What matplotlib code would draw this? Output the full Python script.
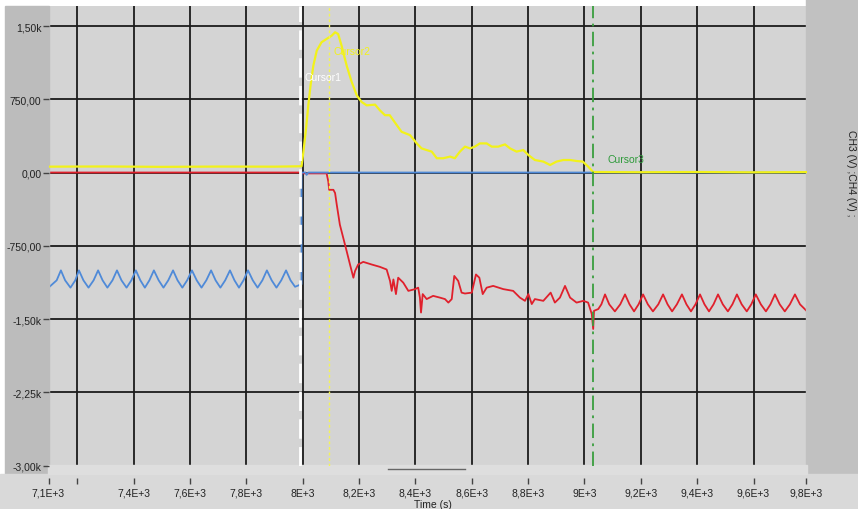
import matplotlib
matplotlib.use('Agg')
import matplotlib.pyplot as plt
from matplotlib.patches import Rectangle
from matplotlib.lines import Line2D

# ---- data (time in s, CH1/CH2 on left axis, CH3/CH4 on right axis) ----
yellow_t = [7098, 7300, 7500, 7700, 7900, 7996, 8002, 8012, 8020, 8028,
            8038, 8050, 8067, 8085, 8103, 8115, 8126, 8138, 8156, 8174,
            8192, 8209, 8227, 8257, 8274, 8292, 8309, 8334, 8351, 8381,
            8405, 8422, 8440, 8458, 8476, 8499, 8523, 8540, 8558, 8576,
            8594, 8611, 8629, 8653, 8671, 8694, 8718, 8736, 8759, 8783,
            8801, 8824, 8854, 8878, 8901, 8925, 8949, 8972, 8994, 9013,
            9031, 9200, 9400, 9600, 9788]
yellow_v = [60, 62, 58, 61, 60, 64, 197, 451, 688, 892,
            1096, 1248, 1334, 1368, 1401, 1436, 1418, 1299, 1096, 927,
            790, 723, 688, 695, 637, 587, 587, 485, 417, 383,
            298, 247, 230, 214, 146, 146, 163, 146, 214, 265,
            247, 265, 298, 298, 265, 265, 288, 247, 214, 230,
            179, 128, 112, 77, 112, 128, 128, 118, 112, 61,
            5, 3, 5, 2, 4]

blue_t = [7098, 7127, 7142, 7157, 7176, 7193, 7206, 7222, 7240, 7258,
          7274, 7290, 7307, 7325, 7341, 7357, 7375, 7392, 7408, 7424,
          7440, 7456, 7472, 7489, 7506, 7523, 7540, 7556, 7573, 7590,
          7607, 7624, 7641, 7658, 7675, 7691, 7708, 7725, 7742, 7758,
          7774, 7790, 7806, 7823, 7840, 7857, 7873, 7890, 7907, 7924,
          7941, 7957, 7973, 7996, 7996, 8010, 8014, 8020, 9788]
blue_v = [-393, -368, -334, -368, -393, -368, -334, -368, -393, -368,
          -334, -368, -393, -368, -334, -368, -393, -368, -334, -368,
          -393, -368, -334, -368, -393, -368, -334, -368, -393, -368,
          -334, -368, -393, -368, -334, -368, -393, -368, -334, -368,
          -393, -368, -334, -368, -393, -368, -334, -368, -393, -368,
          -334, -368, -390, -381, 0, 0, -8, 0, 0]

red_t = [7098, 7995, 8000, 8085, 8091, 8094, 8109, 8115, 8121, 8132,
         8144, 8156, 8168, 8180, 8186, 8197, 8215, 8245, 8274, 8298,
         8310, 8316, 8322, 8331, 8339, 8357, 8375, 8399, 8410, 8416,
         8420, 8426, 8440, 8463, 8487, 8505, 8517, 8529, 8538, 8552,
         8564, 8576, 8600, 8615, 8627, 8639, 8653, 8676, 8712, 8747,
         8771, 8789, 8801, 8813, 8824, 8854, 8880, 8895, 8913, 8931,
         8949, 8972, 8996, 9013, 9026, 9031, 9034, 9049, 9060, 9073,
         9088, 9108, 9127, 9144, 9160, 9176, 9192, 9208, 9225, 9243,
         9262, 9279, 9295, 9311, 9328, 9346, 9362, 9378, 9394, 9410,
         9426, 9442, 9458, 9474, 9491, 9509, 9525, 9541, 9558, 9576,
         9592, 9608, 9626, 9644, 9660, 9676, 9693, 9711, 9729, 9747,
         9765, 9788]
red_v = [0, 0, -3, -3, -31, -59, -59, -70, -110, -178,
         -223, -268, -314, -359, -336, -314, -305, -314, -322, -331,
         -370, -404, -365, -415, -359, -376, -404, -398, -393, -427,
         -478, -415, -432, -421, -427, -432, -444, -432, -353, -370,
         -410, -413, -410, -348, -359, -415, -393, -387, -398, -404,
         -427, -438, -415, -449, -432, -438, -410, -444, -427, -387,
         -427, -444, -438, -444, -483, -534, -472, -466, -450, -416,
         -450, -474, -450, -416, -450, -474, -450, -416, -450, -474,
         -450, -416, -450, -474, -450, -416, -450, -474, -450, -416,
         -450, -474, -450, -416, -450, -474, -450, -416, -450, -474,
         -450, -416, -450, -474, -450, -416, -450, -474, -450, -416,
         -450, -472]

cursor_t = [7990, 8094, 9031]
cursor_names = ['Cursor1', 'Cursor2', 'Cursor3']

x_ticks = [7098, 7200, 7400, 7600, 7800, 8000, 8200, 8400, 8600, 8800,
           9000, 9200, 9400, 9600, 9788]
x_labels = ['7,1E+3', '', '7,4E+3', '7,6E+3', '7,8E+3', '8E+3', '8,2E+3',
            '8,4E+3', '8,6E+3', '8,8E+3', '9E+3', '9,2E+3', '9,4E+3',
            '9,6E+3', '9,8E+3']
x_grid = [7200, 7400, 7600, 7800, 8000, 8200, 8400, 8600, 8800, 9000,
          9200, 9400, 9600]
left_ticks = [1500, 750, 0, -750, -1500, -2250, -3000]
left_labels = ['1,50k', '750,00', '0,00', '-750,00', '-1,50k', '-2,25k', '-3,00k']
right_ticks = [500, 250, 0, -250, -500, -750, -1000]
right_labels = ['500,00', '250,00', '0,00', '-250,00', '-500,00', '-750,00', '-1,00k']

plt.rcParams['font.family'] = ['Liberation Sans Narrow', 'Liberation Sans', 'DejaVu Sans']

W, H = 858, 510
fig = plt.figure(figsize=(W / 100, H / 100), dpi=100, facecolor='white')


def px_rect(x0, y0, x1, y1, color):
    fig.patches.append(Rectangle((x0 / W, 1 - y1 / H), (x1 - x0) / W, (y1 - y0) / H,
                                 transform=fig.transFigure, color=color, zorder=0))


# panel frame like the LabVIEW graph
px_rect(5, 7, 49, 475, '#bcbcbc')
px_rect(806, 0, 858, 475, '#c1c1c1')
px_rect(0, 475, 858, 510, '#d9d9d9')
px_rect(48, 466, 807, 475, '#dedede')
fig.lines.append(Line2D([388 / W, 465 / W], [1 - 470 / H, 1 - 470 / H],
                        transform=fig.transFigure, color='#666666', lw=1))

ax = fig.add_axes([48.5 / W, 1 - 466.5 / H, 758 / W, 459.5 / H])
ax2 = ax.twinx()
ax.set_zorder(ax2.get_zorder() + 1)
ax.patch.set_visible(False)
ax2.patch.set_visible(True)
ax2.patch.set_facecolor('#d4d4d4')

ax.set_xlim(7098, 9788)
ax.set_ylim(-3000, 1705)
ax2.set_ylim(-1000, 1705 / 3)

# grid (on the back axes)
for t in x_grid:
    ax2.axvline(t, color='#1c1c1c', lw=1.3, zorder=1)
for v in right_ticks[:-1]:
    ax2.axhline(v, color='#1c1c1c', lw=1.3, zorder=1)

ax2.plot(blue_t, blue_v, color='#4f8ad8', lw=1.3, zorder=3)
ax2.plot(red_t, red_v, color='#e0202c', lw=1.3, zorder=2)
ax.plot(yellow_t, yellow_v, color='#f2f21a', lw=1.6, zorder=3)

# cursors
ax.axvline(cursor_t[0], color='white', lw=2, dashes=(7, 3), zorder=4)
ax.axvline(cursor_t[1], color='#f4f455', lw=1, dashes=(2, 2), zorder=4)
ax.axvline(cursor_t[2], color='#3a9e3e', lw=1.3, dashes=(8, 3, 1.5, 3), zorder=4)
ax.text(8008, 977, cursor_names[0], color='white', fontsize=7.5, va='center', zorder=5)
ax.text(8108, 1244, cursor_names[1], color='#f2f21a', fontsize=7.5, va='center', zorder=5)
ax.text(9082, 138, cursor_names[2], color='#2e9a3a', fontsize=7.5, va='center', zorder=5)

for a in (ax, ax2):
    for s in a.spines.values():
        s.set_visible(False)

ax.set_xticks(x_ticks)
ax.set_xticklabels(x_labels)
ax.spines['bottom'].set_position(('outward', 9))
ax.tick_params(axis='x', length=4, width=1, color='#444444', labelsize=7.5,
               labelcolor='#222222', pad=3)
ax.set_yticks(left_ticks)
ax.set_yticklabels(left_labels)
ax.tick_params(axis='y', length=4, width=1, color='#444444', labelsize=7.5,
               labelcolor='#222222', pad=1)
ax2.set_yticks(right_ticks)
ax2.set_yticklabels(right_labels)
ax2.tick_params(axis='y', length=4, width=1, color='#444444', labelsize=7.5,
                labelcolor='#222222', pad=1)

fig.text(433 / W, 1 - 505 / H, 'Time (s)', fontsize=7.5, color='#222222',
         ha='center', va='center')
fig.text(851 / W, 1 - 173 / H, 'CH3 (V) ;CH4 (V) ;', fontsize=7.5, color='#222222',
         rotation=270, ha='center', va='center')

fig.savefig('out.png', dpi=100, facecolor=fig.get_facecolor())
